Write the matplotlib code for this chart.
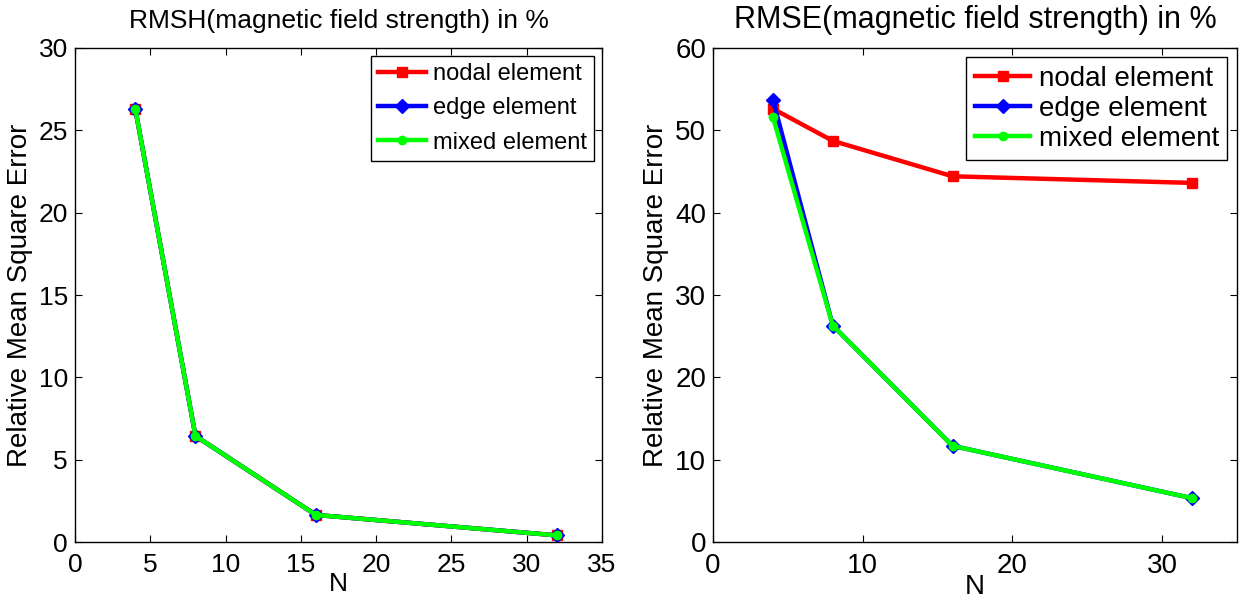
import matplotlib
matplotlib.use("Agg")
import matplotlib.pyplot as plt

plt.rcParams['font.family'] = ['Liberation Sans', 'DejaVu Sans']

# data
N = [4, 8, 16, 32]

# left: RMSH (magnetic field strength)
h_nodal = [26.3, 6.45, 1.66, 0.42]
h_edge = [26.3, 6.45, 1.66, 0.42]
h_mixed = [26.3, 6.45, 1.66, 0.42]

# right: RMSE
e_nodal = [52.6, 48.7, 44.4, 43.6]
e_edge = [53.7, 26.3, 11.7, 5.35]
e_mixed = [51.6, 26.3, 11.7, 5.35]

labels = ["nodal element", "edge element", "mixed element"]

fig = plt.figure(figsize=(12.48, 6.07), dpi=100)
ax1 = fig.add_axes([0.0601, 0.1066, 0.4223, 0.8148])
ax2 = fig.add_axes([0.5713, 0.1066, 0.4199, 0.8148])


# left panel in the original is squeezed sideways, so its texts are a bit smaller
def draw(ax, nodal, edge, mixed, tick_fs, title_fs, leg_fs, leg_sp, title,
         ylim, yticks, xticks):
    ax.plot(N, nodal, color="red", lw=3.2, marker="s", ms=7, label=labels[0])
    ax.plot(N, edge, color="blue", lw=3.2, marker="D", ms=7, label=labels[1])
    ax.plot(N, mixed, color="#00ff00", lw=3.2, marker="o", ms=6, label=labels[2])
    ax.set_xlim(0, 35)
    ax.set_ylim(*ylim)
    ax.set_xticks(xticks)
    ax.set_yticks(yticks)
    ax.tick_params(direction="in", top=True, right=True, length=5, width=0.8,
                   labelsize=tick_fs)
    ax.tick_params(axis="x", pad=8)
    ax.tick_params(axis="y", pad=5)
    for s in ax.spines.values():
        s.set_linewidth(1.0)
    ax.set_title(title, fontsize=title_fs, pad=14)
    ax.set_xlabel("N", fontsize=tick_fs, labelpad=-4)
    ax.set_ylabel("Relative Mean Square Error", fontsize=20, labelpad=4)
    leg = ax.legend(loc="upper right", fontsize=leg_fs,
                    fancybox=False, framealpha=1,
                    edgecolor="black", borderpad=0.3, handlelength=2.0,
                    handletextpad=0.3, labelspacing=leg_sp, borderaxespad=0.35)
    leg.get_frame().set_linewidth(1.0)


draw(ax1, h_nodal, h_edge, h_mixed, 19, 19, 17, 0.52,
     "RMSH(magnetic field strength) in %", (0, 30), range(0, 31, 5), range(0, 36, 5))
draw(ax2, e_nodal, e_edge, e_mixed, 20, 22, 20, 0.15,
     "RMSE(magnetic field strength) in %", (0, 60), range(0, 61, 10), range(0, 31, 10))

fig.savefig("out.png", dpi=100)
